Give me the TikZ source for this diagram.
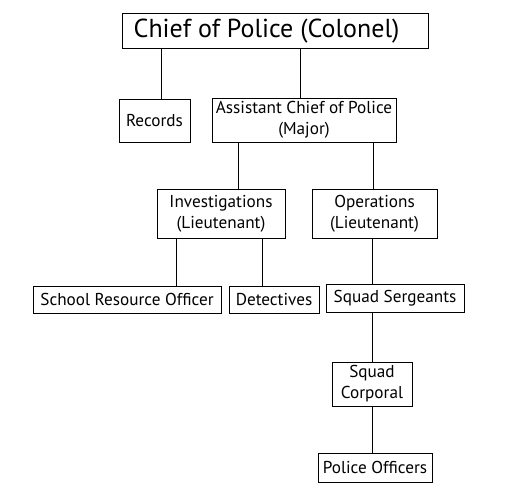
\documentclass[tikz,border=0pt]{standalone}
\usepackage{fontspec}
\setmainfont{PT Sans}
\usepackage{tikz}
\usetikzlibrary{positioning}

\begin{document}
\begin{tikzpicture}[x=1pt, y=-1pt,
    rank/.style={draw, line width=1pt, inner sep=0pt, align=center, font=\fontsize{17.2}{21}\selectfont},
    link/.style={line width=0.8pt}
]
\useasboundingbox (0,0) rectangle (521,495);
\node[rank, minimum width=306pt, minimum height=35pt, font=\fontsize{26}{30}\selectfont] (chief) at (275, 31.5) {Chief of Police (Colonel)\hspace*{17pt}};
\node[rank, minimum width=71pt, minimum height=43pt] (records) at (154.5, 120.5) {Records};
\node[rank, minimum width=184pt, minimum height=44pt] (assistant) at (304, 120) {Assistant Chief of Police\\(Major)};
\node[rank, minimum width=128pt, minimum height=49pt] (invest) at (221, 213.5) {Investigations\\(Lieutenant)};
\node[rank, minimum width=125pt, minimum height=49pt] (ops) at (374.5, 213.5) {Operations\\(Lieutenant)};
\node[rank, minimum width=188pt, minimum height=27pt] (sro) at (127, 299.5) {School Resource Officer};
\node[rank, minimum width=90pt, minimum height=27pt] (detect) at (274, 299.5) {Detectives};
\node[rank, minimum width=138pt, minimum height=28pt] (sergeants) at (395, 298) {Squad Sergeants};
\node[rank, minimum width=80pt, minimum height=44pt] (corporal) at (372, 384) {Squad\\Corporal};
\node[rank, minimum width=114pt, minimum height=29pt] (officers) at (375, 467.5) {Police Officers};

\draw[link] ([xshift=6.5pt]records.north) -- ([xshift=6.5pt]records.north |- chief.south);
\draw[link] ([xshift=-4pt]assistant.north) -- ([xshift=-4pt]assistant.north |- chief.south);
\draw[link] ([xshift=17pt]invest.north) -- ([xshift=17pt]invest.north |- assistant.south);
\draw[link] ([xshift=-1.5pt]ops.north) -- ([xshift=-1.5pt]ops.north |- assistant.south);
\draw[link] ([xshift=49pt]sro.north) -- ([xshift=49pt]sro.north |- invest.south);
\draw[link] ([xshift=-12pt]detect.north) -- ([xshift=-12pt]detect.north |- invest.south);
\draw[link] ([xshift=-23pt]sergeants.north) -- ([xshift=-23pt]sergeants.north |- ops.south);
\draw[link] (corporal.north) -- (corporal.north |- sergeants.south);
\draw[link] ([xshift=-3pt]officers.north) -- ([xshift=-3pt]officers.north |- corporal.south);
\end{tikzpicture}
\end{document}
